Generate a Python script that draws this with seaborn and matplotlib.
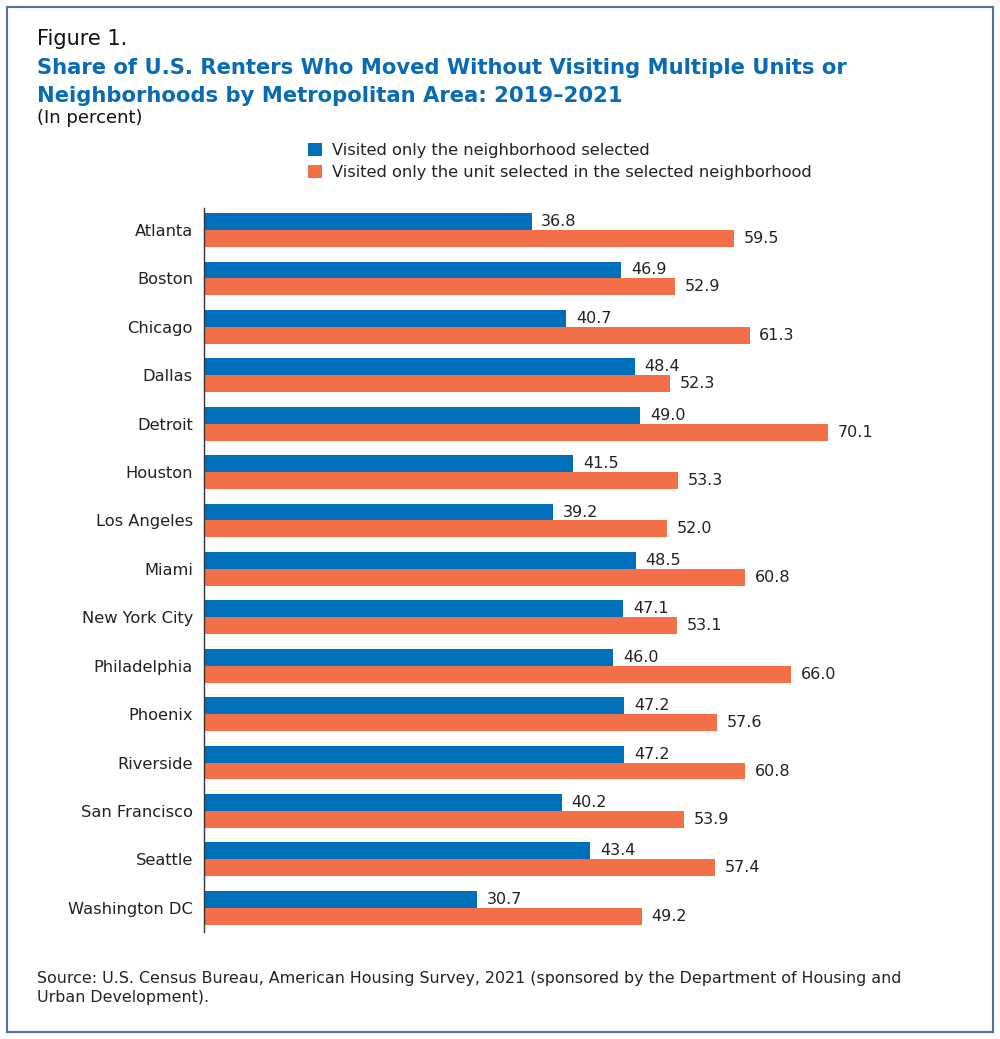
import matplotlib
matplotlib.use("Agg")
import matplotlib.pyplot as plt
from matplotlib.patches import Rectangle
import seaborn as sns
import pandas as pd

cities = ["Atlanta", "Boston", "Chicago", "Dallas", "Detroit", "Houston", "Los Angeles",
          "Miami", "New York City", "Philadelphia", "Phoenix", "Riverside",
          "San Francisco", "Seattle", "Washington DC"]
neighborhood_only = [36.8, 46.9, 40.7, 48.4, 49.0, 41.5, 39.2, 48.5, 47.1, 46.0, 47.2, 47.2, 40.2, 43.4, 30.7]
unit_only = [59.5, 52.9, 61.3, 52.3, 70.1, 53.3, 52.0, 60.8, 53.1, 66.0, 57.6, 60.8, 53.9, 57.4, 49.2]
series_names = ["Visited only the neighborhood selected",
                "Visited only the unit selected in the selected neighborhood"]

df = pd.DataFrame({
    "city": cities * 2,
    "value": neighborhood_only + unit_only,
    "series": [series_names[0]] * len(cities) + [series_names[1]] * len(cities),
})

sns.set_theme(style="white")
plt.rcParams["font.family"] = ["DejaVu Sans"]

BLUE = "#0070BA"
ORANGE = "#F26F47"

fig = plt.figure(figsize=(10, 10.39), dpi=100)
ax = fig.add_axes([0.204, 0.103, 0.7566, 0.6968])

sns.barplot(data=df, y="city", x="value", hue="series", orient="h",
            palette=[BLUE, ORANGE], width=0.7, saturation=1, ax=ax, legend=True,
            linewidth=0, edgecolor="none")

for cont in ax.containers:
    ax.bar_label(cont, fmt="%.1f", padding=7, fontsize=11.5, color="#222222")

ax.set_xlim(0, 85)
ax.set_ylim(14.5, -0.455)
ax.set_xlabel("")
ax.set_ylabel("")
ax.set_xticks([])
for s in ["top", "right", "bottom"]:
    ax.spines[s].set_visible(False)
ax.spines["left"].set_color("#333333")
ax.spines["left"].set_linewidth(1)
ax.tick_params(axis="y", length=0, pad=8, labelsize=11.7, labelcolor="#222222")

handles, labels = ax.get_legend_handles_labels()
ax.get_legend().remove()
fig.legend(handles, labels, loc="upper left", bbox_to_anchor=(0.308, 0.862),
           frameon=False, fontsize=11.7, handlelength=0.85, handleheight=0.85,
           handletextpad=0.6, labelspacing=0.38, borderaxespad=0, borderpad=0,
           labelcolor="#222222")

fig.text(0.037, 0.962, "Figure 1.", fontsize=15, color="#111111", va="center", ha="left")
fig.text(0.037, 0.935, "Share of U.S. Renters Who Moved Without Visiting Multiple Units or",
         fontsize=15.2, fontweight="bold", color="#0A6BB5", va="center", ha="left")
fig.text(0.037, 0.908, "Neighborhoods by Metropolitan Area: 2019\u20132021",
         fontsize=15.2, fontweight="bold", color="#0A6BB5", va="center", ha="left")
fig.text(0.037, 0.886, "(In percent)", fontsize=13, color="#111111", va="center", ha="left")

fig.text(0.037, 0.0587, "Source: U.S. Census Bureau, American Housing Survey, 2021 (sponsored by the Department of Housing and",
         fontsize=11.45, color="#222222", va="center", ha="left")
fig.text(0.037, 0.0404, "Urban Development).",
         fontsize=11.45, color="#222222", va="center", ha="left")

fig.patches.append(Rectangle((0.007, 0.0067), 0.986, 0.9865, transform=fig.transFigure,
                             fill=False, edgecolor="#4F72A5", linewidth=1.5))

fig.savefig("out.png", dpi=100)
